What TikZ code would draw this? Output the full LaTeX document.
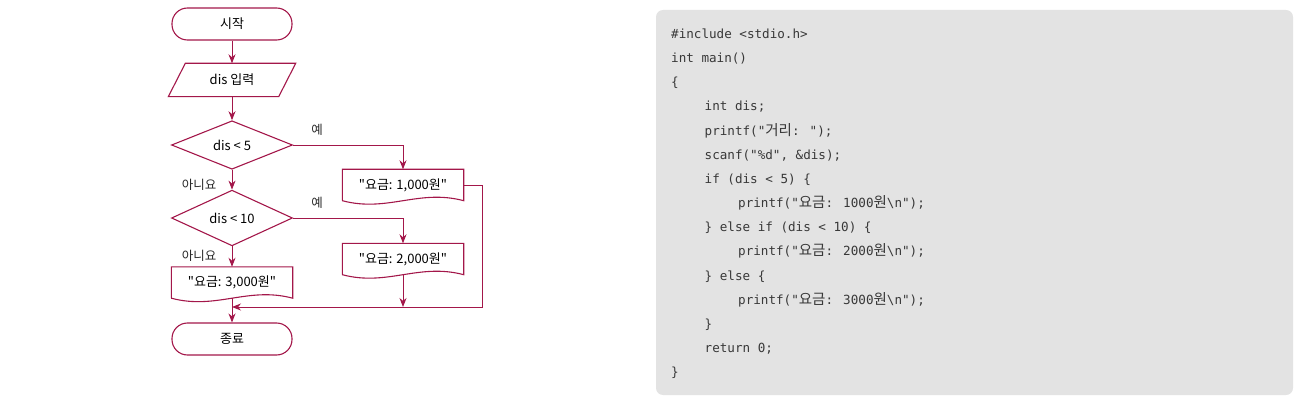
\documentclass[tikz,border=0pt]{standalone}
\usepackage{fontspec}
\setmainfont{Noto Sans CJK KR}[Ligatures=TeXOff]
\newfontfamily\codefont{DejaVu Sans Mono}[Ligatures=TeXOff]
\newfontfamily\krcode{Noto Sans CJK KR}[Scale=1.15,Ligatures=TeXOff]
\newcommand{\kc}[1]{{\krcode #1}}
\usetikzlibrary{calc,positioning,arrows.meta,shapes.geometric}
\definecolor{flowred}{HTML}{A3174A}
\definecolor{codegray}{HTML}{E3E3E3}
\definecolor{codeink}{HTML}{383838}

\begin{document}
\begin{tikzpicture}[x=1pt,y=-1pt,>={Stealth[length=9pt,width=7pt]},
  term/.style={draw=flowred,line width=1.1pt,rounded corners=15.5pt,
    minimum width=120pt,minimum height=32pt,inner sep=0pt,font=\fontsize{13}{15}\selectfont},
  iobox/.style={minimum width=110pt,minimum height=33pt,inner sep=0pt,font=\fontsize{13}{15}\selectfont},
  test/.style={diamond,draw=flowred,line width=1.1pt,minimum width=121pt,minimum height=46pt,
    inner sep=0pt,font=\fontsize{13}{15}\selectfont},
  docbox/.style={minimum width=121pt,minimum height=31pt,inner sep=0pt,font=\fontsize{13}{15}\selectfont},
  tag/.style={font=\fontsize{12.5}{14}\selectfont,text=black!85},
  link/.style={draw=flowred,line width=0.9pt},
  code/.style={font=\fontsize{12.6}{15}\codefont,text=codeink,inner sep=0pt}]
  \useasboundingbox (0,0) rectangle (1299,401);

  % flowchart
  \node[term] (start) at (232,24) {시작};
  \node[iobox] (in) at (232,80) {dis 입력};
  \draw[flowred,line width=1.1pt] ($(in.north west)+(8.5,0)$) -- ($(in.north east)+(8.5,0)$)
    -- ($(in.south east)+(-8.5,0)$) -- ($(in.south west)+(-8.5,0)$) -- cycle;
  \node[test] (c1) at (232,145) {dis < 5};
  \node[test] (c2) at (232,218) {dis < 10};
  \node[docbox] (out1) at (403,185) {"요금: 1,000원"};
  \node[docbox] (out2) at (403,259) {"요금: 2,000원"};
  \node[docbox] (out3) at (232,282.5) {"요금: 3,000원"};
  \foreach \n in {out1,out2,out3}{
    \draw[flowred,line width=1.1pt] (\n.south west) -- (\n.north west) -- (\n.north east)
      -- (\n.south east) .. controls +(-45,-12) and +(45,12) .. (\n.south west);
  }
  \node[term] (stop) at (232,339) {종료};

  \node[tag] (yes1) at ($(c1.east)+(24,-15)$) {예};
  \node[tag] (yes2) at ($(c2.east)+(24,-15)$) {예};
  \node[tag] (no1) at ($(c1.south)+(-33,15)$) {아니요};
  \node[tag] (no2) at ($(c2.south)+(-33,9)$) {아니요};

  \coordinate (join) at (232,307);
  \draw[link,->] (start) -- (in);
  \draw[link,->] (in) -- (c1);
  \draw[link,->] (c1) -- (c2);
  \draw[link,->] (c2) -- (out3);
  \draw[link,->] (out3.south) -- (stop);
  \draw[link,->] (c1.east) -| (out1.north);
  \draw[link,->] (c2.east) -| (out2.north);
  \draw[link,->] (out1.east) -- ++(19,0) |- (join);
  \draw[link,->] (out2.south) -- (out2.south |- join);

  % source code
  \fill[codegray,rounded corners=7pt] (656,10) rectangle (1293,395);
  \foreach \ind/\txt [count=\k from 0] in {
    0/{\#include <stdio.h>},
    0/{int main()},
    0/{\{},
    1/{int dis;},
    1/{printf("\kc{거리}: ");},
    1/{scanf("\%d", \&dis);},
    1/{if (dis < 5) \{},
    2/{printf("\kc{요금}: 1000\kc{원}\textbackslash n");},
    1/{\} else if (dis < 10) \{},
    2/{printf("\kc{요금}: 2000\kc{원}\textbackslash n");},
    1/{\} else \{},
    2/{printf("\kc{요금}: 3000\kc{원}\textbackslash n");},
    1/{\}},
    1/{return 0;},
    0/{\}}}{
    \node[code,anchor=base west] (line\k) at (671+33.5*\ind,38.5+24.15*\k) {\txt};
  }
\end{tikzpicture}
\end{document}
